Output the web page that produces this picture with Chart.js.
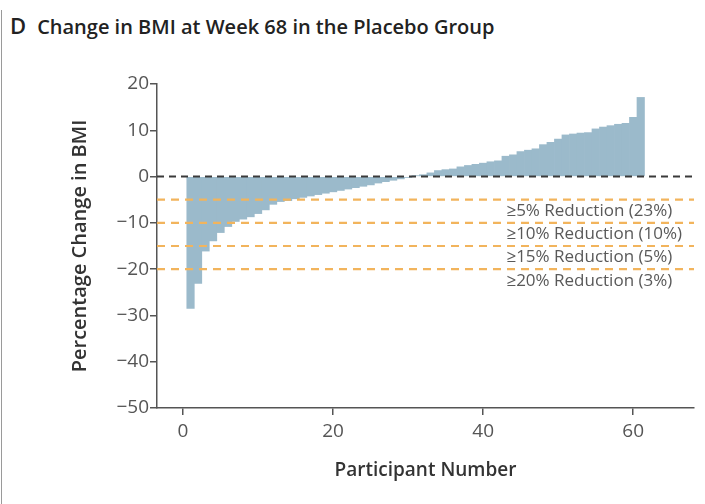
<!DOCTYPE html>
<html>
<head>
<meta charset="utf-8">
<script src="https://cdn.jsdelivr.net/npm/chart.js@4.4.1/dist/chart.umd.min.js"></script>
<style>
  body { margin: 0; background: #fff; }
  #wrap { position: relative; width: 705px; height: 504px; overflow: hidden; }
  #frame { position: absolute; left: 1px; top: 10px; bottom: 0; width: 1px; background: #9a9a9a; }
  #title { position: absolute; left: 10px; top: 11px; font-family: "Open Sans", sans-serif; color: #222; white-space: nowrap; line-height: 28px; }
  #title .letter { font-size: 22px; font-weight: 600; margin-right: 11px; }
  #title .text { font-size: 20px; font-weight: 600; }
  #myChart { position: absolute; left: 0; top: 0; }
</style>
</head>
<body>
<div id="wrap">
  <div id="frame"></div>
  <div id="title"><span class="letter">D</span><span class="text">Change in BMI at Week 68 in the Placebo Group</span></div>
  <canvas id="myChart" width="705" height="504"></canvas>
</div>
<script>
// participants sorted by change in BMI (placebo, n = 61)
var bmiChange = [
  -28.5, -23.1, -16.1, -13.9, -12.1, -10.8, -9.7, -9.2, -8.7, -8.0,
  -7.2, -6.0, -5.4, -5.2, -4.8, -4.5, -4.2, -3.9, -3.6, -3.3,
  -3.0, -2.7, -2.4, -2.1, -1.8, -1.4, -1.1, -0.8, -0.5, -0.2,
  0.2, 0.4, 0.8, 1.3, 1.5, 1.65, 2.1, 2.4, 2.65, 2.9,
  3.2, 3.4, 4.4, 4.7, 5.4, 5.7, 6.0, 6.9, 7.4, 8.1,
  9.0, 9.2, 9.4, 9.5, 10.3, 10.7, 11.0, 11.3, 11.5, 12.8,
  17.1
];
var participants = bmiChange.map(function (v, i) { return i + 1; });

var xTicks = [0, 20, 40, 60];
var yTicks = [20, 10, 0, -10, -20, -30, -40, -50];
var xRange = [-3.47, 68.1];

var thresholds = [-5, -10, -15, -20];
var thresholdLabels = [
  "\u22655% Reduction (23%)",
  "\u226510% Reduction (10%)",
  "\u226515% Reduction (5%)",
  "\u226520% Reduction (3%)"
];

var points = participants.map(function (p, i) { return { x: p, y: bmiChange[i] }; });

function minus(v) {
  return v < 0 ? "\u2212" + Math.abs(v) : "" + v;
}

// dashed reference lines + labels
var refLines = {
  id: "refLines",
  afterDatasetsDraw: function (chart) {
    var c = chart.ctx;
    var xs = chart.scales.x;
    var ys = chart.scales.y;
    var left = chart.chartArea.left;
    var right = chart.chartArea.right;
    c.save();
    c.lineWidth = 2.2;
    c.strokeStyle = "#f2b45c";
    c.setLineDash([8, 6]);
    thresholds.forEach(function (t) {
      var y = ys.getPixelForValue(t);
      c.beginPath();
      c.moveTo(left, y);
      c.lineTo(right, y);
      c.stroke();
    });
    c.strokeStyle = "#3a3a3a";
    c.lineWidth = 2;
    c.setLineDash([7, 5]);
    var y0 = ys.getPixelForValue(0);
    c.beginPath();
    c.moveTo(left, y0);
    c.lineTo(right, y0);
    c.stroke();
    c.setLineDash([]);

    c.fillStyle = "#595959";
    c.font = "17px 'Open Sans', sans-serif";
    c.textAlign = "left";
    c.textBaseline = "middle";
    thresholds.forEach(function (t, i) {
      c.fillText(thresholdLabels[i], xs.getPixelForValue(43.1), ys.getPixelForValue(t - 2.5));
    });
    c.restore();
  }
};

var ctx = document.getElementById("myChart").getContext("2d");

var myChart = new Chart(ctx, {
  type: "bar",
  plugins: [refLines],
  data: {
    datasets: [{
      label: "Change in BMI",
      data: points,
      backgroundColor: "#9bbacb",
      borderWidth: 0,
      barPercentage: 1,
      categoryPercentage: 1
    }]
  },
  options: {
    responsive: false,
    animation: false,
    layout: {
      padding: { left: 68, right: 11, top: 84, bottom: 22 }
    },
    plugins: {
      legend: { display: false },
      tooltip: { enabled: false }
    },
    scales: {
      x: {
        type: "linear",
        offset: false,
        min: xRange[0],
        max: xRange[1],
        afterBuildTicks: function (scale) {
          scale.ticks = xTicks.map(function (v) { return { value: v }; });
        },
        afterFit: function (scale) { scale.height = 74; },
        grid: { offset: false, drawOnChartArea: false, drawTicks: true, tickLength: 7, color: "#555", lineWidth: 1.5 },
        border: { display: true, color: "#555", width: 1.5 },
        ticks: {
          color: "#555",
          padding: 5,
          font: { family: "'Open Sans', sans-serif", size: 19 },
          callback: function (v) { return minus(v); }
        },
        title: {
          display: true,
          text: "Participant Number",
          color: "#333",
          padding: { top: 0, bottom: 0 },
          font: { family: "'Open Sans', sans-serif", size: 19, weight: "600" }
        }
      },
      y: {
        min: -50,
        max: 20,
        afterBuildTicks: function (scale) {
          scale.ticks = yTicks.map(function (v) { return { value: v }; });
        },
        afterFit: function (scale) { scale.width = 89; },
        grid: { drawOnChartArea: false, drawTicks: true, tickLength: 7, color: "#555", lineWidth: 1.5 },
        border: { display: true, color: "#555", width: 1.5 },
        ticks: {
          color: "#555",
          padding: 1,
          font: { family: "'Open Sans', sans-serif", size: 19 },
          callback: function (v) { return minus(v); }
        },
        title: {
          display: true,
          text: "Percentage Change in BMI",
          color: "#333",
          padding: { top: 0, bottom: 0 },
          font: { family: "'Open Sans', sans-serif", size: 20, weight: "600" }
        }
      }
    }
  }
});
</script>
</body>
</html>
